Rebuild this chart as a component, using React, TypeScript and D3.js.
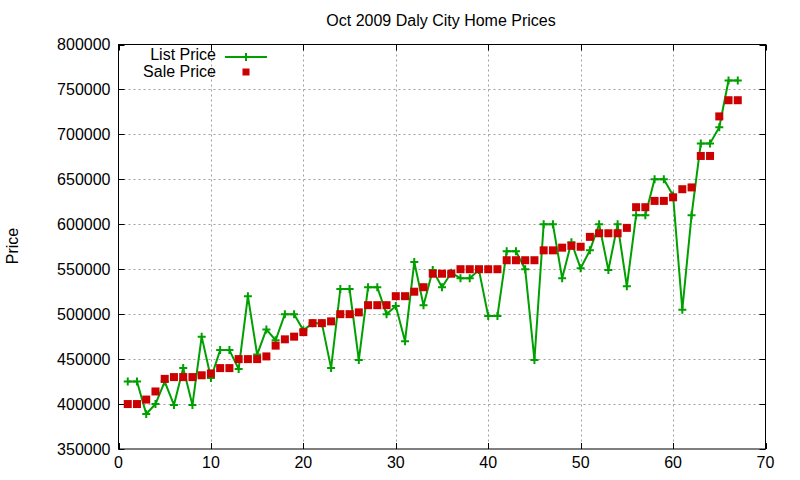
import React from 'react';
import * as d3 from 'd3';

// Listing index 1..67
const listPrice = [
  425000, 425000, 389000, 400000, 425000, 399000, 440000, 399000, 475000, 429000,
  460000, 460000, 439000, 520000, 455000, 483000, 471000, 500000, 500000, 482000,
  490000, 490000, 440000, 528000, 528000, 449000, 530000, 530000, 500000, 509000,
  470000, 558000, 510000, 549000, 530000, 546000, 540000, 540000, 549000, 498000,
  498000, 570000, 570000, 550000, 449000, 600000, 600000, 540000, 580000, 551000,
  571000, 600000, 549000, 600000, 531000, 610000, 610000, 650000, 650000, 632000,
  505000, 610000, 690000, 690000, 708000, 760000, 760000,
];

const salePrice = [
  400000, 400000, 405000, 414000, 428000, 430000, 430000, 430000, 432000, 434000,
  440000, 440000, 450000, 450000, 450000, 453000, 465000, 472000, 475000, 480000,
  490000, 490000, 492000, 500000, 500000, 502000, 510000, 510000, 510000, 520000,
  520000, 525000, 530000, 545000, 545000, 545000, 550000, 550000, 550000, 550000,
  550000, 560000, 560000, 560000, 560000, 571000, 571000, 574000, 576000, 575000,
  586000, 590000, 590000, 590000, 596000, 619000, 619000, 626000, 626000, 630000,
  639000, 641000, 676000, 676000, 720000, 738000, 738000,
];

const xTicks = [0, 10, 20, 30, 40, 50, 60, 70];
const yTicks = [350000, 400000, 450000, 500000, 550000, 600000, 650000, 700000, 750000, 800000];

const GREEN = '#00a000';
const RED = '#cc0000';
const FONT = "'Liberation Sans', Arial, sans-serif";

const App: React.FC = () => {
  const width = 800;
  const height = 480;
  const left = 118.5, right = 765.5, top = 44.5, bottom = 449;

  const x = d3.scaleLinear().domain([0, 70]).range([left, right]);
  const y = d3.scaleLinear().domain([350000, 800000]).range([bottom, top]);

  const listLine = d3.line<number>()
    .x((_, i) => x(i + 1))
    .y(d => y(d));

  const plus = 'M-4,0H4M0,-4V4';
  const tickLen = 6;

  return (
    <div style={{ position: 'absolute', left: 0, top: 0 }}>
      <svg width={width} height={height} style={{ display: 'block', background: '#fff' }}>
        {/* grid */}
        <g stroke="#a0a0a0" strokeWidth={1} strokeDasharray="2,3">
          {yTicks.slice(1, -1).map(t => (
            <line key={`gy${t}`} x1={left} x2={right} y1={Math.round(y(t)) + 0.5} y2={Math.round(y(t)) + 0.5} />
          ))}
          {xTicks.slice(1, -1).map(t => (
            <line key={`gx${t}`} x1={Math.round(x(t)) + 0.5} x2={Math.round(x(t)) + 0.5} y1={top} y2={bottom} />
          ))}
        </g>

        {/* ticks (inward, mirrored) */}
        <g stroke="#000" strokeWidth={1}>
          {yTicks.map(t => {
            const yy = Math.round(y(t)) + 0.5;
            return (
              <g key={`ty${t}`}>
                <line x1={left} x2={left + tickLen} y1={yy} y2={yy} />
                <line x1={right - tickLen} x2={right} y1={yy} y2={yy} />
              </g>
            );
          })}
          {xTicks.map(t => {
            const xx = Math.round(x(t)) + 0.5;
            return (
              <g key={`tx${t}`}>
                <line x1={xx} x2={xx} y1={bottom} y2={bottom - tickLen} />
                <line x1={xx} x2={xx} y1={top} y2={top + tickLen} />
              </g>
            );
          })}
        </g>

        {/* tick labels */}
        <g fontFamily={FONT} fontSize={16} fill="#000">
          {yTicks.map(t => (
            <text key={`ly${t}`} x={left - 8} y={y(t)} dy="0.36em" textAnchor="end">{t}</text>
          ))}
          {xTicks.map(t => (
            <text key={`lx${t}`} x={x(t)} y={468} textAnchor="middle">{t}</text>
          ))}
        </g>

        {/* list price line + points */}
        <path d={listLine(listPrice) || ''} fill="none" stroke={GREEN} strokeWidth={2} strokeLinejoin="round" />
        <g stroke={GREEN} strokeWidth={2}>
          {listPrice.map((d, i) => (
            <path key={`lp${i}`} d={plus} transform={`translate(${x(i + 1)},${y(d)})`} />
          ))}
        </g>

        {/* sale price squares */}
        <g fill={RED}>
          {salePrice.map((d, i) => (
            <rect key={`sp${i}`} x={x(i + 1) - 4} y={y(d) - 4} width={8} height={8} />
          ))}
        </g>

        {/* border */}
        <rect x={left} y={top} width={right - left} height={bottom - top} fill="none" stroke="#000" strokeWidth={1} />

        {/* legend */}
        <g fontFamily={FONT} fontSize={16} fill="#000">
          <text x={216} y={60} textAnchor="end">List Price</text>
          <text x={216} y={77} textAnchor="end">Sale Price</text>
        </g>
        <line x1={225} x2={267} y1={57} y2={57} stroke={GREEN} strokeWidth={2} />
        <path d={plus} transform="translate(246,57)" stroke={GREEN} strokeWidth={2} />
        <rect x={242.5} y={68.5} width={7} height={7} fill={RED} />

        {/* title & axis label */}
        <text x={441} y={26} textAnchor="middle" fontFamily={FONT} fontSize={16}>Oct 2009 Daly City Home Prices</text>
        <text transform="translate(18,246) rotate(-90)" textAnchor="middle" fontFamily={FONT} fontSize={16}>Price</text>
      </svg>
    </div>
  );
};

export default App;
